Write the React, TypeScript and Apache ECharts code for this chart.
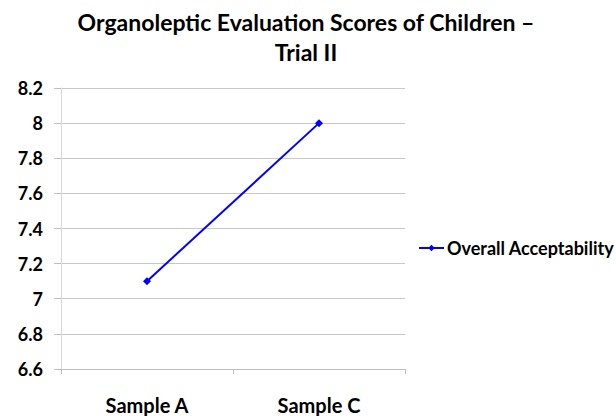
import React, { useEffect, useRef } from "react";
import * as echarts from "echarts";

const categories = ["Sample A", "Sample C"];
const seriesName = "Overall Acceptability";
const values = [7.1, 8];
const titleLines = ["Organoleptic Evaluation Scores of Children –", "Trial II"];

export default function App() {
  const ref = useRef<HTMLDivElement>(null);
  useEffect(() => {
    if (!ref.current) return;
    const chart = echarts.init(ref.current, undefined, { renderer: "svg" });
    const font = "Lato, 'Open Sans', sans-serif";
    chart.setOption({
      animation: false,
      backgroundColor: "#ffffff",
      title: {
        text: titleLines.join("\n"),
        left: 306,
        textAlign: "center",
        top: 7,
        padding: 0,
        textStyle: {
          fontFamily: font,
          fontWeight: "bold",
          fontSize: 23,
          lineHeight: 30,
          color: "#000",
        },
      },
      legend: {
        data: [seriesName],
        left: 418,
        top: 239,
        padding: 0,
        orient: "vertical",
        itemWidth: 25,
        itemHeight: 8,
        itemGap: 0,
        textStyle: {
          fontFamily: font,
          fontWeight: "bold",
          fontSize: 18,
          color: "#000",
          padding: [0, 0, 0, -2],
        },
      },
      grid: { left: 61, right: 211, top: 88, bottom: 47 },
      xAxis: {
        type: "category",
        data: categories,
        boundaryGap: true,
        axisLine: { lineStyle: { color: "#bfbfbf" } },
        axisTick: { show: true, length: 5, lineStyle: { color: "#bfbfbf" } },
        axisLabel: {
          fontFamily: font,
          fontWeight: "bold",
          fontSize: 20,
          color: "#000",
          margin: 26,
        },
      },
      yAxis: {
        type: "value",
        min: 6.6,
        max: 8.2,
        interval: 0.2,
        axisLine: { show: true, lineStyle: { color: "#d9d9d9" } },
        axisTick: { show: true, length: 7, lineStyle: { color: "#bfbfbf" } },
        splitLine: { lineStyle: { color: "#c8c8c8" } },
        axisLabel: {
          fontFamily: font,
          fontWeight: "bold",
          fontSize: 18,
          color: "#000",
          margin: 18,
          formatter: (v: number) => String(Number(v.toFixed(1))),
        },
      },
      series: [
        {
          name: seriesName,
          type: "line",
          data: values,
          symbol: "diamond",
          symbolSize: 8,
          itemStyle: { color: "#0000ff" },
          lineStyle: { color: "#0000ff", width: 2 },
        },
      ],
    });
    return () => chart.dispose();
  }, []);
  return (
    <div
      ref={ref}
      style={{ position: "fixed", left: 0, top: 0, width: 616, height: 416 }}
    />
  );
}
